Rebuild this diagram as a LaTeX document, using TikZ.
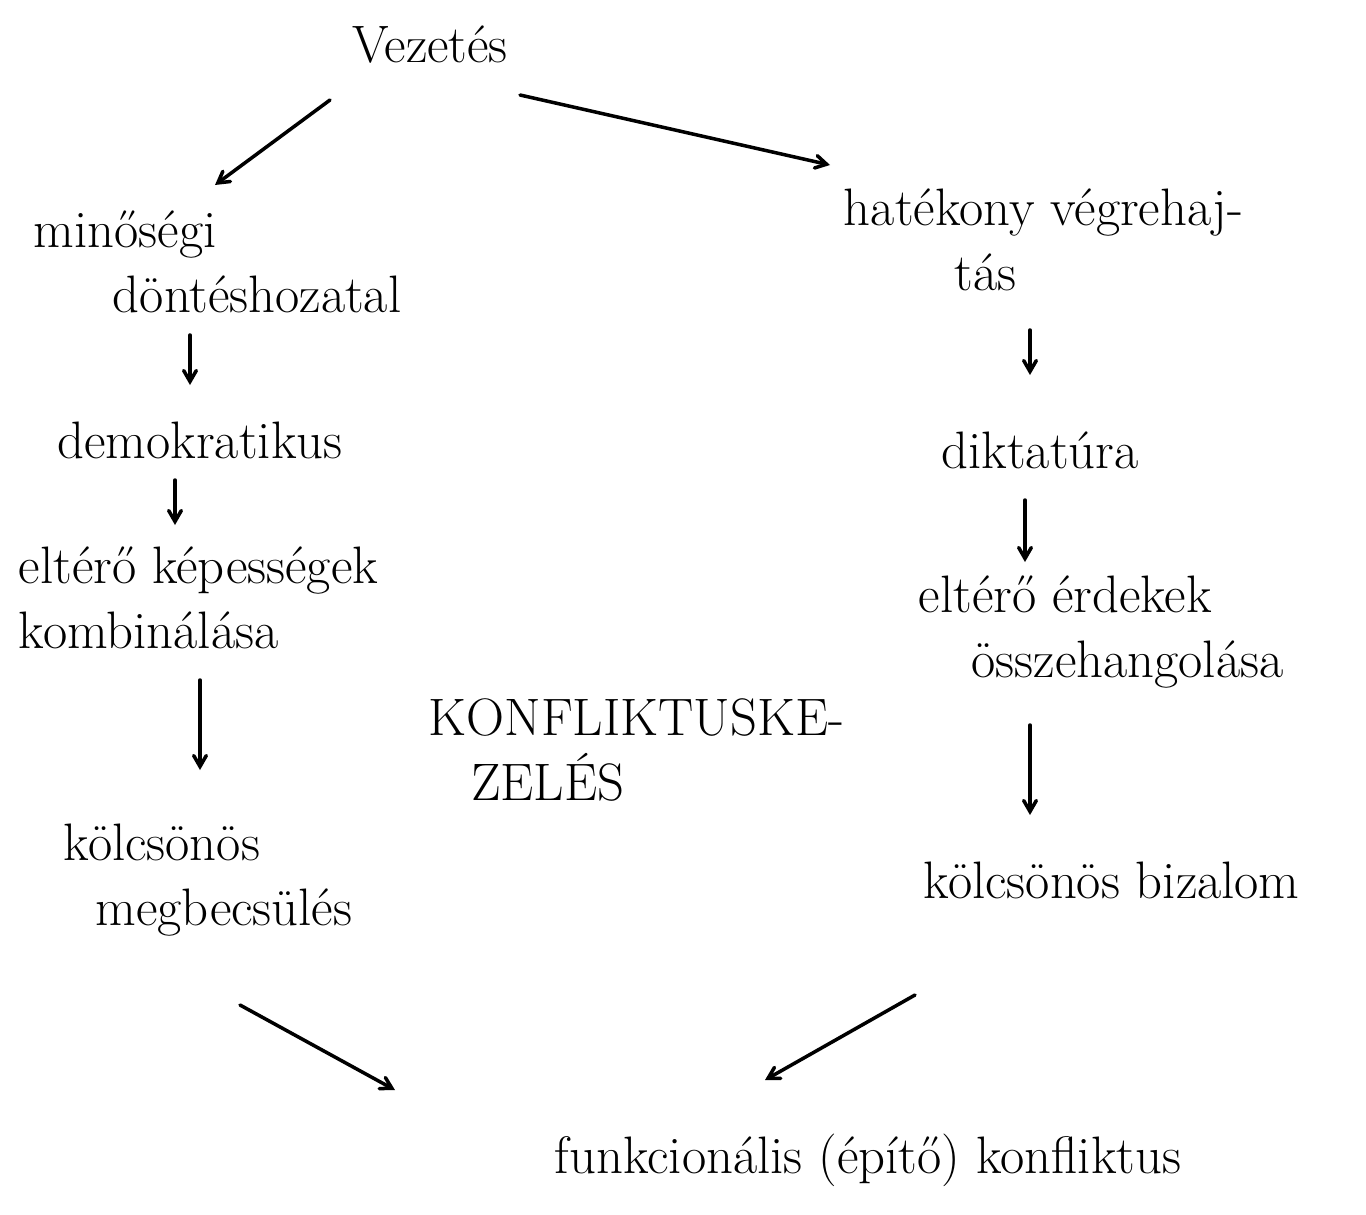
\documentclass[tikz,border=0pt]{standalone}
\usepackage{fontspec}
\usetikzlibrary{arrows}

\begin{document}
\begin{tikzpicture}[x=0.02cm,y=-0.02cm,
	txt/.style={font=\fontsize{30}{37}\selectfont, inner sep=2pt},
	arr/.style={->, >=angle 60, line width=2pt, line cap=round}]
	\useasboundingbox (0,0) rectangle (1366,1214);
	% fejlec
	\node [txt] (vez) at (430,45) {Vezetés};
	% bal oldal
	\node [txt, anchor=west, align=left] (mdt) at (30,262) {minőségi\\\hspace*{1.5em}döntéshozatal};
	\node [txt] (dem) at (200,440) {demokratikus};
	\node [txt, anchor=west, align=left] (ekk) at (15,598) {eltérő képességek\\kombinálása};
	\node [txt, anchor=west, align=left] (kmb) at (60,880) {kölcsönös\\\hspace*{0.6em}megbecsülés};
	% jobb oldal
	\node [txt, anchor=west, align=left] (hvt) at (840,240) {hatékony végrehaj-\\\hspace*{2.1em}tás};
	\node [txt] (dik) at (1040,450) {diktatúra};
	\node [txt, anchor=west, align=left] (eeo) at (915,632) {eltérő érdekek\\\hspace*{1em}összehangolása};
	\node [txt, anchor=west] (kbz) at (920,880) {kölcsönös bizalom};
	% kozep, alja
	\node [txt, anchor=west, align=left] (kon) at (425,750) {KONFLIKTUSKE-\\\hspace*{0.8em}ZELÉS};
	\node [txt] (fek) at (868,1160) {funkcionális (építő) konfliktus};
	% nyilak
	\draw [arr] ([shift={(-100,55)}]vez.center) -- ([shift={(185,-77)}]mdt.west);
	\draw [arr] ([shift={(90,50)}]vez.center) -- ([shift={(-10,-75)}]hvt.west);
	\draw [arr] ([shift={(160,73)}]mdt.west) -- ([shift={(-10,-55)}]dem.center);
	\draw [arr] ([shift={(-25,40)}]dem.center) -- ([shift={(160,-73)}]ekk.west);
	\draw [arr] ([shift={(185,82)}]ekk.west) -- ([shift={(140,-110)}]kmb.west);
	\draw [arr] ([shift={(180,125)}]kmb.west) -- ([shift={(-473,-70)}]fek.center);
	\draw [arr] ([shift={(190,90)}]hvt.west) -- ([shift={(-10,-75)}]dik.center);
	\draw [arr] ([shift={(-15,50)}]dik.center) -- ([shift={(110,-70)}]eeo.west);
	\draw [arr] ([shift={(115,93)}]eeo.west) -- ([shift={(110,-65)}]kbz.west);
	\draw [arr] ([shift={(-5,115)}]kbz.west) -- ([shift={(-103,-80)}]fek.center);
\end{tikzpicture}
\end{document}
